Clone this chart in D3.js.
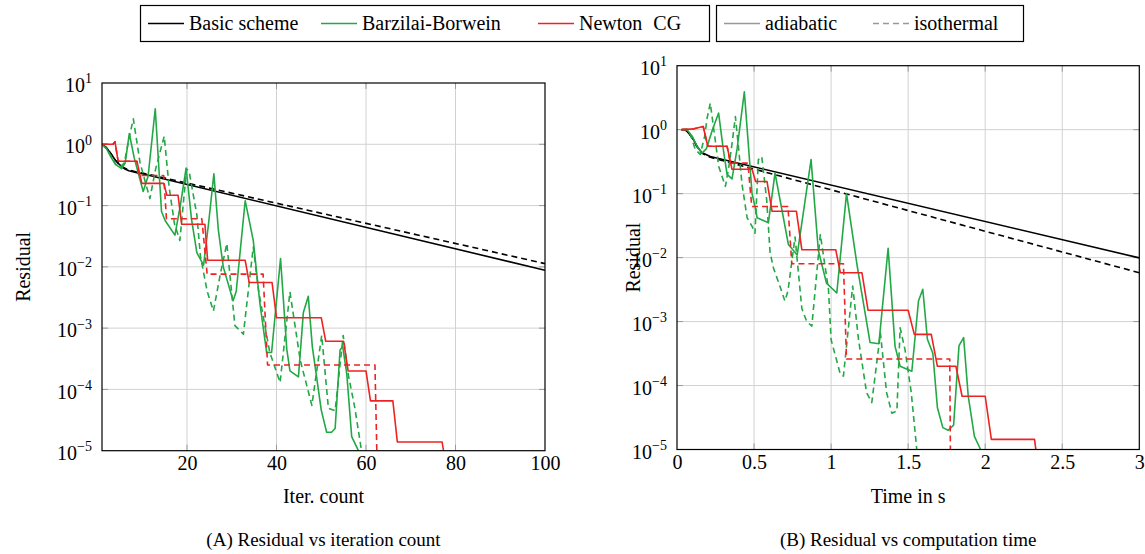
<!DOCTYPE html>
<html><head><meta charset="utf-8">
<script src="https://cdn.jsdelivr.net/npm/d3@7"></script>
<style>body{margin:0;background:#fff} svg{display:block} svg text{font-family:"Liberation Serif","Times New Roman",Times,serif !important;}</style>
</head><body><svg id="c" width="1145" height="554"></svg>
<script>
// ---------------- DATA ----------------
const iterTicks=[20,40,60,80,100];
const iterTickLabels=["20","40","60","80","100"];
const timeTicks=[0,0.5,1,1.5,2,2.5,3];
const timeTickLabels=["0","0.5","1","1.5","2","2.5","3"];
const resTicks=[1e1,1e0,1e-1,1e-2,1e-3,1e-4,1e-5];
const resTickExp=["1","0","\u22121","\u22122","\u22123","\u22124","\u22125"];

// (A) residual vs iteration count  [iteration, residual]
const basicIterAdiabatic=[[1,1],[2,0.88],[3,0.7],[4,0.55],[5,0.46],[6,0.4],[7,0.37],[9,0.34],[10,0.33],[100,0.0088]];
const basicIterIsothermal=[[1,1],[2,0.88],[3,0.7],[4,0.55],[5,0.46],[6,0.41],[7,0.38],[9,0.35],[10,0.34],[100,0.0113]];
const bbIterAdiabatic=[[1,1],[2,0.85],[3,0.62],[4,0.47],[5.4,0.4],[6.2,0.5],[7.1,1.5],[8.2,0.6],[10.2,0.17],[11.3,0.3],[12.9,3.8],[14.3,0.08],[15.1,0.057],[17.3,0.033],[18.5,0.1],[19.8,0.41],[21,0.06],[22.2,0.017],[23.7,0.0107],[24.8,0.05],[26,0.33],[27,0.04],[28.1,0.01],[30.3,0.0028],[31,0.004],[33,0.12],[34.8,0.027],[36.3,0.0025],[37.8,0.0004],[38.9,0.0004],[40.9,0.0137],[42.3,0.00045],[43,0.0002],[44.9,0.00016],[46,0.0018],[47.1,0.0033],[48,0.0005],[50,0.000046],[51.2,0.00002],[52.3,0.00002],[53.1,0.000023],[54.2,0.00044],[54.8,0.0005],[55.7,0.00018],[56.8,0.000017],[58.3,0.00001],[59,0.000005]];
const bbIterIsothermal=[[1,1],[2,0.85],[3,0.65],[4,0.48],[5,0.42],[6,0.5],[7,1.2],[8,2.6],[9.5,0.5],[11.7,0.13],[13,0.4],[14.9,1.35],[16,0.2],[17.2,0.05],[18.4,0.027],[19.9,0.4],[20.5,0.35],[22.2,0.07],[23,0.015],[24.5,0.004],[25.9,0.0019],[27.5,0.008],[28.9,0.024],[30.7,0.0011],[32.6,0.0008],[34.8,0.021],[36,0.004],[38.5,0.0004],[40.8,0.00013],[43,0.0039],[45.3,0.0003],[47.9,0.000055],[50.1,0.00076],[51.6,0.000049],[53.1,0.000045],[54.9,0.00076],[56,0.00018],[57.5,0.00005],[59,0.00001],[59.5,0.000006]];
const ncgIterAdiabatic=[[1,1],[3.5,1.0],[3.9,1.1],[4.6,0.53],[8.8,0.53],[9.9,0.23],[14.8,0.23],[15.5,0.147],[18,0.147],[18.8,0.0495],[24,0.0495],[24.6,0.0128],[33,0.0128],[33.9,0.00555],[39,0.00555],[40,0.00148],[50,0.00148],[51,0.00061],[55,0.00061],[56,0.0002],[60,0.0002],[61,0.000065],[66,0.000065],[67,0.0000139],[77,0.0000139],[78,0.000005]];
const ncgIterIsothermal=[[1,1],[3.5,1.0],[3.9,1.1],[4.6,0.53],[8.8,0.53],[9.2,0.31],[14.8,0.31],[15.4,0.061],[23.3,0.061],[24.5,0.0076],[37,0.0076],[38,0.00025],[62,0.00025],[62.5,0.000005]];

// (B) residual vs computation time  [seconds, residual]
const basicTimeAdiabatic=[[0.03,1],[0.06,0.97],[0.1,0.75],[0.13,0.55],[0.16,0.44],[0.216,0.38],[3,0.0099]];
const basicTimeIsothermal=[[0.03,1],[0.06,0.97],[0.1,0.74],[0.13,0.54],[0.16,0.43],[0.216,0.37],[3,0.0058]];
const bbTimeAdiabatic=[[0.03,1],[0.065,1],[0.1,0.78],[0.13,0.55],[0.162,0.43],[0.19,0.5],[0.23,1.0],[0.27,1.82],[0.3,0.5],[0.325,0.2],[0.357,0.17],[0.39,0.5],[0.437,3.9],[0.487,0.1],[0.506,0.063],[0.52,0.042],[0.593,0.035],[0.636,0.21],[0.723,0.016],[0.78,0.011],[0.87,0.34],[0.917,0.013],[0.97,0.004],[1.037,0.0028],[1.10,0.1],[1.17,0.0072],[1.253,0.00047],[1.31,0.00045],[1.37,0.014],[1.415,0.00041],[1.448,0.0002],[1.524,0.000167],[1.567,0.0021],[1.595,0.0032],[1.625,0.00053],[1.66,0.00032],[1.69,0.000045],[1.725,0.000022],[1.76,0.00002],[1.795,0.000024],[1.83,0.00042],[1.86,0.00056],[1.89,0.000068],[1.93,0.000016],[1.97,0.00001],[2.0,0.000006]];
const bbTimeIsothermal=[[0.03,1],[0.065,1],[0.087,0.83],[0.119,0.49],[0.151,0.41],[0.18,0.8],[0.195,1.5],[0.216,2.6],[0.249,0.66],[0.27,0.27],[0.314,0.13],[0.335,0.25],[0.357,0.6],[0.379,1.6],[0.40,0.5],[0.422,0.14],[0.455,0.042],[0.49,0.03],[0.506,0.024],[0.528,0.34],[0.55,0.38],[0.582,0.08],[0.604,0.012],[0.625,0.007],[0.669,0.0035],[0.70,0.0021],[0.72,0.003],[0.766,0.021],[0.81,0.0016],[0.842,0.001],[0.875,0.00085],[0.93,0.023],[0.983,0.0032],[1.0,0.00052],[1.06,0.00015],[1.08,0.00014],[1.14,0.0036],[1.178,0.00052],[1.23,0.000078],[1.264,0.000054],[1.32,0.00066],[1.36,0.000078],[1.394,0.000037],[1.427,0.00004],[1.448,0.0008],[1.48,0.00036],[1.52,0.000078],[1.556,0.00001],[1.58,0.000005]];
const ncgTimeAdiabatic=[[0.03,1],[0.11,1.03],[0.17,1.12],[0.2,0.55],[0.325,0.55],[0.357,0.24],[0.487,0.24],[0.51,0.155],[0.584,0.155],[0.617,0.053],[0.775,0.053],[0.81,0.0133],[1.03,0.0133],[1.06,0.0058],[1.2,0.0058],[1.24,0.0015],[1.5,0.0015],[1.54,0.00063],[1.65,0.00063],[1.69,0.0002],[1.81,0.0002],[1.85,0.000068],[2.0,0.000068],[2.04,0.0000144],[2.32,0.0000144],[2.345,0.000005]];
const ncgTimeIsothermal=[[0.03,1],[0.11,1.03],[0.17,1.12],[0.2,0.55],[0.325,0.55],[0.346,0.3],[0.46,0.3],[0.485,0.063],[0.72,0.063],[0.745,0.008],[1.08,0.008],[1.1,0.00026],[1.77,0.00026],[1.775,0.000005]];

const legendMethods=["Basic scheme","Barzilai-Borwein","Newton CG"];
const legendModels=["adiabatic","isothermal"];

// ---------------- DRAWING ----------------
const FONT="Liberation Serif, Times New Roman, serif";
const GREEN="#22a845", RED="#ee2222", BLACK="#000000";
const svg=d3.select("#c");
svg.append("rect").attr("width",1145).attr("height",554).attr("fill","#fff");

function panel(p){
  const g=svg.append("g");
  const x=d3.scaleLinear().domain(p.xdom).range([p.x0,p.x1]);
  const y=d3.scaleLog().domain([1e-5,10]).range([p.y1,p.y0]);
  const inner=p.xticks.filter(d=>x(d)>p.x0+1&&x(d)<p.x1-1);
  // grid
  g.append("g").selectAll("line").data(inner).join("line")
    .attr("x1",d=>x(d)).attr("x2",d=>x(d)).attr("y1",p.y0).attr("y2",p.y1)
    .attr("stroke","#d2d2d2").attr("stroke-width",1);
  g.append("g").selectAll("line").data(resTicks.slice(1,-1)).join("line")
    .attr("x1",p.x0).attr("x2",p.x1).attr("y1",d=>y(d)).attr("y2",d=>y(d))
    .attr("stroke","#d2d2d2").attr("stroke-width",1);
  // inward ticks
  const tk=g.append("g").attr("stroke","#9a9a9a").attr("stroke-width",1);
  inner.forEach(d=>{
    tk.append("line").attr("x1",x(d)).attr("x2",x(d)).attr("y1",p.y1).attr("y2",p.y1-6);
    tk.append("line").attr("x1",x(d)).attr("x2",x(d)).attr("y1",p.y0).attr("y2",p.y0+6);
  });
  resTicks.slice(1,-1).forEach(d=>{
    tk.append("line").attr("x1",p.x0).attr("x2",p.x0+6).attr("y1",y(d)).attr("y2",y(d));
    tk.append("line").attr("x1",p.x1).attr("x2",p.x1-6).attr("y1",y(d)).attr("y2",y(d));
  });
  // clip
  const cid="clip"+p.id;
  svg.append("clipPath").attr("id",cid).append("rect")
    .attr("x",p.x0).attr("y",p.y0).attr("width",p.x1-p.x0).attr("height",p.y1-p.y0);
  const line=d3.line().x(d=>x(d[0])).y(d=>y(d[1]));
  const lg=g.append("g").attr("clip-path",`url(#${cid})`);
  p.series.forEach(s=>{
    lg.append("path").attr("d",line(s.data)).attr("fill","none")
      .attr("stroke",s.color).attr("stroke-width",1.6)
      .attr("stroke-linejoin","round")
      .attr("stroke-dasharray",s.dash?"6,4":null);
  });
  // frame
  g.append("rect").attr("x",p.x0).attr("y",p.y0).attr("width",p.x1-p.x0).attr("height",p.y1-p.y0)
    .attr("fill","none").attr("stroke","#000").attr("stroke-width",1.2);
  // x axis labels
  const ax=g.append("g").attr("transform",`translate(0,${p.y1})`)
    .call(d3.axisBottom(x).tickValues(p.xticks).tickFormat((d,i)=>p.xlabels[i]).tickSize(0).tickPadding(5.5));
  ax.select(".domain").remove();
  ax.attr("font-family",FONT).attr("font-size",20);
  ax.selectAll("text").attr("fill","#000");
  // y axis labels
  const ay=g.append("g").attr("transform",`translate(${p.x0},0)`)
    .call(d3.axisLeft(y).tickValues(resTicks).tickFormat(()=> "10").tickSize(0).tickPadding(10));
  ay.select(".domain").remove();
  ay.attr("font-family",FONT).attr("font-size",20);
  ay.selectAll("text").attr("fill","#000").attr("dy","0.43em")
    .each(function(d,i){
      d3.select(this).append("tspan").attr("dy",-8.7).attr("font-size",14).text(resTickExp[i]);
    });
  // axis titles
  g.append("text").attr("x",(p.x0+p.x1)/2).attr("y",503).attr("text-anchor","middle")
    .attr("font-size",20).text(p.xtitle);
  g.append("text").attr("transform",`translate(${p.ylabx},${(p.y0+p.y1)/2}) rotate(-90)`).attr("text-anchor","middle")
    .attr("font-size",20).text("Residual");
  g.append("text").attr("x",(p.x0+p.x1)/2).attr("y",546).attr("text-anchor","middle")
    .attr("font-size",19).text(p.caption);
}

panel({id:"A",xdom:[1,100],x0:102,x1:545,y0:83,y1:450.7,xticks:iterTicks,xlabels:iterTickLabels,
  xtitle:"Iter. count",caption:"(A) Residual vs iteration count",ylabx:30,
  series:[{data:basicIterAdiabatic,color:BLACK},{data:basicIterIsothermal,color:BLACK,dash:true},
          {data:bbIterAdiabatic,color:GREEN},{data:bbIterIsothermal,color:GREEN,dash:true},
          {data:ncgIterAdiabatic,color:RED},{data:ncgIterIsothermal,color:RED,dash:true}]});
panel({id:"B",xdom:[0,3],x0:677,x1:1139.3,y0:65.7,y1:449.5,xticks:timeTicks,xlabels:timeTickLabels,
  xtitle:"Time in s",caption:"(B) Residual vs computation time",ylabx:640,
  series:[{data:basicTimeAdiabatic,color:BLACK},{data:basicTimeIsothermal,color:BLACK,dash:true},
          {data:bbTimeAdiabatic,color:GREEN},{data:bbTimeIsothermal,color:GREEN,dash:true},
          {data:ncgTimeAdiabatic,color:RED},{data:ncgTimeIsothermal,color:RED,dash:true}]});

// legend
const leg=svg.append("g").attr("font-size",20);
const LY=23.5;
leg.append("rect").attr("x",140.5).attr("y",5.5).attr("width",569).attr("height",36).attr("fill","#fff").attr("stroke","#000").attr("stroke-width",1.2);
leg.append("rect").attr("x",716.5).attr("y",5.5).attr("width",307).attr("height",36).attr("fill","#fff").attr("stroke","#000").attr("stroke-width",1.2);
const methodColors=[BLACK,GREEN,RED];
const methodX=[148,321,538];
legendMethods.forEach((t,i)=>{
  leg.append("line").attr("x1",methodX[i]).attr("x2",methodX[i]+36).attr("y1",LY).attr("y2",LY).attr("stroke",methodColors[i]).attr("stroke-width",1.6);
  const tx=leg.append("text").attr("x",methodX[i]+41).attr("y",LY+6.5);
  if(t==="Newton CG"){ tx.text("Newton "); tx.append("tspan").attr("dx",6).text("CG"); }
  else tx.text(t);
});
const modelX=[724,873];
legendModels.forEach((t,i)=>{
  leg.append("line").attr("x1",modelX[i]).attr("x2",modelX[i]+36).attr("y1",LY).attr("y2",LY).attr("stroke","#999").attr("stroke-width",1.6)
    .attr("stroke-dasharray",i===1?"6,4":null);
  leg.append("text").attr("x",modelX[i]+41).attr("y",LY+6.5).text(t);
});
</script></body></html>
